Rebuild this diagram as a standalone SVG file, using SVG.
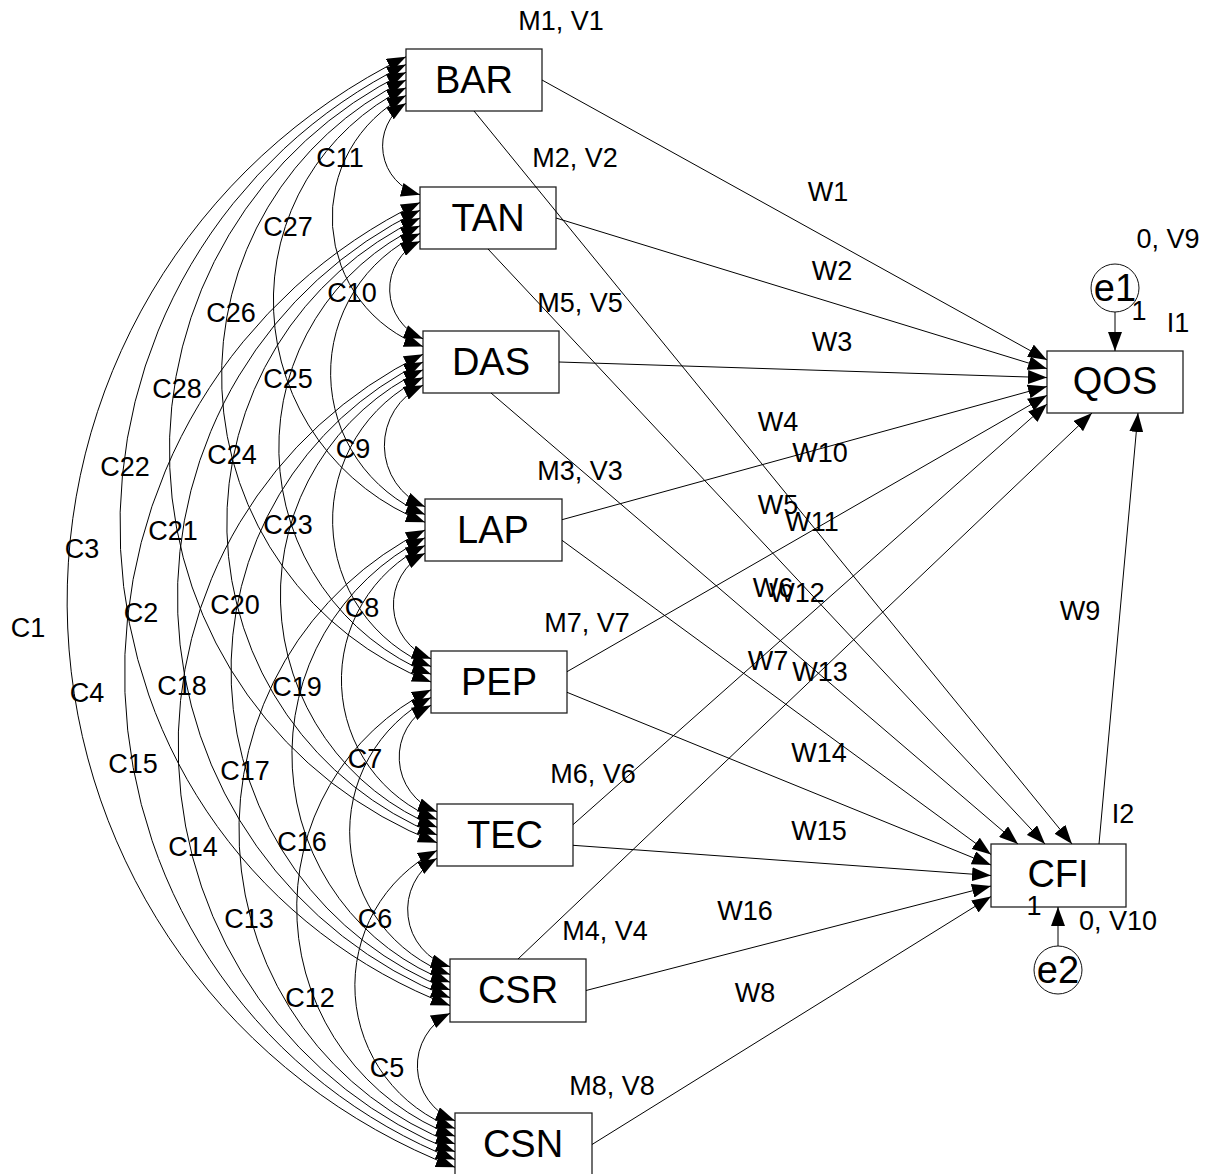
<svg xmlns="http://www.w3.org/2000/svg" width="1217" height="1174" viewBox="0 0 1217 1174">
<style>
.box{fill:#fff;stroke:#222;stroke-width:1.3}
.ell{fill:#fff;stroke:#111;stroke-width:1}
.nt{font-family:"Liberation Sans",Arial,sans-serif;font-size:38px;fill:#000;text-anchor:middle}
.et{font-family:"Liberation Sans",Arial,sans-serif;font-size:38px;fill:#000;text-anchor:middle}
.lb{font-family:"Liberation Sans",Arial,sans-serif;font-size:27px;fill:#000;text-anchor:middle}
.ln{fill:none;stroke:#000;stroke-width:1;marker-end:url(#arr)}
.cv{fill:none;stroke:#000;stroke-width:1;marker-start:url(#arr);marker-end:url(#arr)}
</style>
<defs>
<marker id="arr" markerUnits="userSpaceOnUse" viewBox="0 0 19 14" refX="19" refY="7" markerWidth="19" markerHeight="14" orient="auto-start-reverse">
<path d="M0,0 L19,7 L0,14 z" fill="#000"/>
</marker>
</defs>

<g id="node-BAR"><rect class="box" x="406" y="49" width="136" height="62"/><text class="nt" x="474" y="93">BAR</text><text class="lb" x="561" y="30">M1, V1</text></g>
<g id="node-TAN"><rect class="box" x="420" y="187" width="136" height="62"/><text class="nt" x="488" y="231">TAN</text><text class="lb" x="575" y="167">M2, V2</text></g>
<g id="node-DAS"><rect class="box" x="423" y="331" width="136" height="62"/><text class="nt" x="491" y="375">DAS</text><text class="lb" x="580" y="312">M5, V5</text></g>
<g id="node-LAP"><rect class="box" x="425" y="499" width="137" height="62"/><text class="nt" x="493" y="543">LAP</text><text class="lb" x="580" y="480">M3, V3</text></g>
<g id="node-PEP"><rect class="box" x="431" y="651" width="136" height="62"/><text class="nt" x="499" y="695">PEP</text><text class="lb" x="587" y="632">M7, V7</text></g>
<g id="node-TEC"><rect class="box" x="437" y="804" width="136" height="62"/><text class="nt" x="505" y="848">TEC</text><text class="lb" x="593" y="783">M6, V6</text></g>
<g id="node-CSR"><rect class="box" x="450" y="959" width="136" height="63"/><text class="nt" x="518" y="1003">CSR</text><text class="lb" x="605" y="940">M4, V4</text></g>
<g id="node-CSN"><rect class="box" x="455" y="1113" width="137" height="63"/><text class="nt" x="523" y="1157">CSN</text><text class="lb" x="612" y="1095">M8, V8</text></g>
<g id="node-QOS"><rect class="box" x="1047" y="351" width="136" height="62"/><text class="nt" x="1115" y="394">QOS</text><text class="lb" x="1178" y="332">I1</text></g>
<g id="node-CFI"><rect class="box" x="991" y="844" width="135" height="63"/><text class="nt" x="1058" y="887">CFI</text><text class="lb" x="1123" y="823">I2</text></g>
<g id="node-e1"><circle class="ell" cx="1115" cy="288" r="24"/><text class="et" x="1115" y="301">e1</text><text class="lb" x="1168" y="248">0, V9</text></g>
<g id="node-e2"><circle class="ell" cx="1058" cy="970" r="24"/><text class="et" x="1058" y="983">e2</text><text class="lb" x="1118" y="930">0, V10</text></g>

<g id="connectors">
<path class="cv" d="M406,103.25 A50.6,50.6 0 0 0 420,194.75"/>
<path class="cv" d="M420,241.25 A53.3,53.3 0 0 0 423,338.75"/>
<path class="cv" d="M423,385.25 A66.4,66.4 0 0 0 425,506.75"/>
<path class="cv" d="M425,553.25 A57.7,57.7 0 0 0 431,658.75"/>
<path class="cv" d="M431,705.25 A58.3,58.3 0 0 0 437,811.75"/>
<path class="cv" d="M437,858.25 A59.7,59.7 0 0 0 450,966.75"/>
<path class="cv" d="M450,1013.25 A58.8,58.8 0 0 0 455,1120.75"/>
<path class="cv" d="M406,95.5 A137.4,137.4 0 0 0 423,346.5"/>
<path class="cv" d="M420,233.5 A153.4,153.4 0 0 0 425,514.5"/>
<path class="cv" d="M423,377.5 A157.9,157.9 0 0 0 431,666.5"/>
<path class="cv" d="M425,545.5 A149.8,149.8 0 0 0 437,819.5"/>
<path class="cv" d="M431,697.5 A151.6,151.6 0 0 0 450,974.5"/>
<path class="cv" d="M437,850.5 A152.1,152.1 0 0 0 455,1128.5"/>
<path class="cv" d="M406,87.75 A237.5,237.5 0 0 0 425,522.25"/>
<path class="cv" d="M420,225.75 A244.9,244.9 0 0 0 431,674.25"/>
<path class="cv" d="M423,369.75 A249.9,249.9 0 0 0 437,827.25"/>
<path class="cv" d="M425,537.75 A243.1,243.1 0 0 0 450,982.25"/>
<path class="cv" d="M431,689.75 A244.1,244.1 0 0 0 455,1136.25"/>
<path class="cv" d="M406,80 A329,329 0 0 0 431,682"/>
<path class="cv" d="M420,218 A337,337 0 0 0 437,835"/>
<path class="cv" d="M423,362 A343.2,343.2 0 0 0 450,990"/>
<path class="cv" d="M425,530 A335.6,335.6 0 0 0 455,1144"/>
<path class="cv" d="M406,72.25 A421,421 0 0 0 437,842.75"/>
<path class="cv" d="M420,210.25 A430.3,430.3 0 0 0 450,997.75"/>
<path class="cv" d="M423,354.25 A435.8,435.8 0 0 0 455,1151.75"/>
<path class="cv" d="M406,64.5 A514.3,514.3 0 0 0 450,1005.5"/>
<path class="cv" d="M420,202.5 A522.9,522.9 0 0 0 455,1159.5"/>
<path class="cv" d="M406,56.75 A606.9,606.9 0 0 0 455,1167.25"/>

<path class="ln" d="M542,80 L1047,359.9"/>
<path class="ln" d="M556,218 L1047,368.7"/>
<path class="ln" d="M559,362 L1047,377.6"/>
<path class="ln" d="M562,519.7 L1047,386.4"/>
<path class="ln" d="M567,671.7 L1047,395.3"/>
<path class="ln" d="M573,824.7 L1047,404.1"/>
<path class="ln" d="M518,959 L1092,413"/>
<path class="ln" d="M1099,844 L1138,413"/>
<path class="ln" d="M474,111 L1072,844"/>
<path class="ln" d="M488,249 L1045,844"/>
<path class="ln" d="M491,393 L1018,844"/>
<path class="ln" d="M562,540.3 L991,854.5"/>
<path class="ln" d="M567,692.3 L991,865"/>
<path class="ln" d="M573,845.3 L991,875.5"/>
<path class="ln" d="M586,990.5 L991,886"/>
<path class="ln" d="M592,1144.5 L991,896.5"/>
<path class="ln" d="M1115,312 L1115,351"/>
<path class="ln" d="M1058,946 L1058,907"/>

<text class="lb" x="828" y="201">W1</text>
<text class="lb" x="832" y="280">W2</text>
<text class="lb" x="832" y="351">W3</text>
<text class="lb" x="778" y="431">W4</text>
<text class="lb" x="820" y="462">W10</text>
<text class="lb" x="778" y="514">W5</text>
<text class="lb" x="812" y="531">W11</text>
<text class="lb" x="773" y="597">W6</text>
<text class="lb" x="797" y="602">W12</text>
<text class="lb" x="768" y="670">W7</text>
<text class="lb" x="820" y="681">W13</text>
<text class="lb" x="1080" y="620">W9</text>
<text class="lb" x="819" y="762">W14</text>
<text class="lb" x="819" y="840">W15</text>
<text class="lb" x="745" y="920">W16</text>
<text class="lb" x="755" y="1002">W8</text>
<text class="lb" x="1139" y="320">1</text>
<text class="lb" x="1034" y="915">1</text>

<text class="lb" x="340" y="167">C11</text>
<text class="lb" x="288" y="236">C27</text>
<text class="lb" x="352" y="302">C10</text>
<text class="lb" x="231" y="322">C26</text>
<text class="lb" x="288" y="388">C25</text>
<text class="lb" x="177" y="398">C28</text>
<text class="lb" x="353" y="458">C9</text>
<text class="lb" x="232" y="464">C24</text>
<text class="lb" x="125" y="476">C22</text>
<text class="lb" x="288" y="534">C23</text>
<text class="lb" x="173" y="540">C21</text>
<text class="lb" x="82" y="558">C3</text>
<text class="lb" x="235" y="614">C20</text>
<text class="lb" x="141" y="622">C2</text>
<text class="lb" x="28" y="637">C1</text>
<text class="lb" x="362" y="617">C8</text>
<text class="lb" x="182" y="695">C18</text>
<text class="lb" x="297" y="696">C19</text>
<text class="lb" x="87" y="702">C4</text>
<text class="lb" x="133" y="773">C15</text>
<text class="lb" x="245" y="780">C17</text>
<text class="lb" x="365" y="768">C7</text>
<text class="lb" x="193" y="856">C14</text>
<text class="lb" x="302" y="851">C16</text>
<text class="lb" x="249" y="928">C13</text>
<text class="lb" x="375" y="928">C6</text>
<text class="lb" x="310" y="1007">C12</text>
<text class="lb" x="387" y="1077">C5</text>
</g>
</svg>
